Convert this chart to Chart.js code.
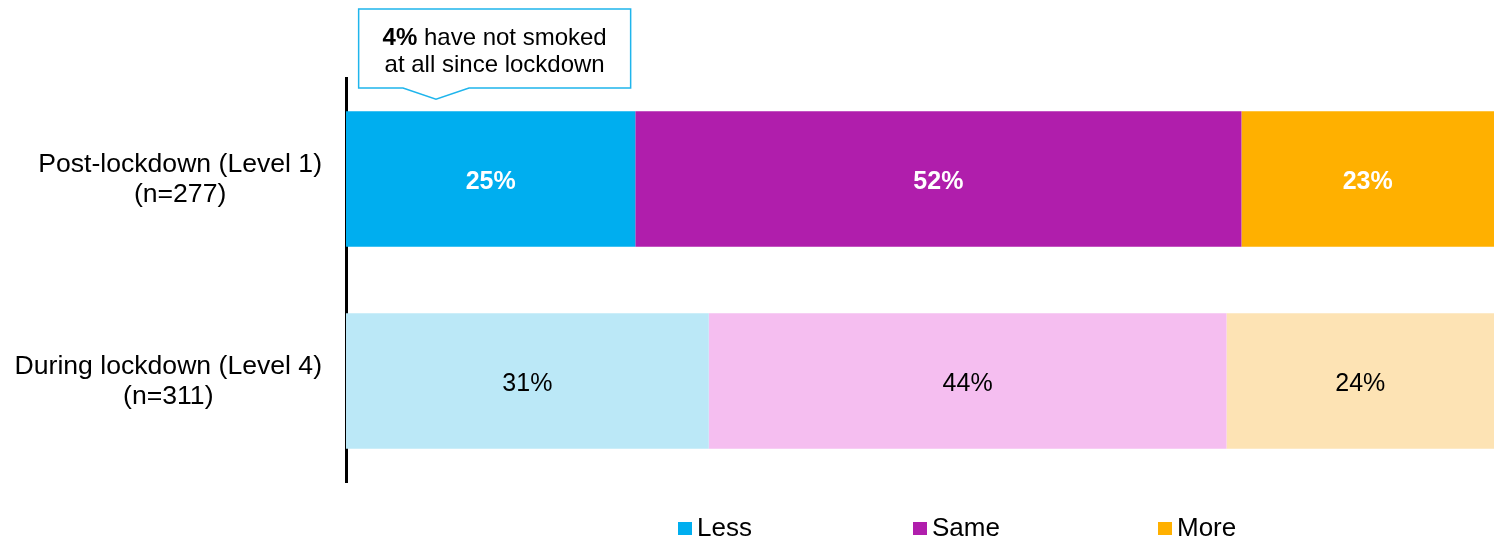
<!DOCTYPE html>
<html>
<head>
<meta charset="utf-8">
<style>
  html, body { margin: 0; padding: 0; background: #fff; }
  #wrap { width: 1494px; height: 539px; position: relative; }
</style>
<script src="https://cdn.jsdelivr.net/npm/chart.js@4.4.1/dist/chart.umd.min.js"></script>
</head>
<body>
<div id="wrap"><canvas id="chart"></canvas></div>
<script>
// rows of the chart
const categories = [
  ['Post-lockdown (Level 1)', '(n=277)'],
  ['During lockdown (Level 4)', '(n=311)']
];
const seriesNames = ['Less', 'Same', 'More'];

// bar widths, one array per series
const lessValues = [25.2, 31.6];
const sameValues = [52.8, 45.1];
const moreValues = [22.0, 23.3];

// labels printed on the segments
const lessLabels = ['25%', '31%'];
const sameLabels = ['52%', '44%'];
const moreLabels = ['23%', '24%'];

const calloutBold = '4%';
const calloutLines = [' have not smoked', 'at all since lockdown'];

const darkColors = ['#00AEEF', '#B01EAC', '#FFB000'];
const lightColors = ['#BBE8F7', '#F5BEF0', '#FDE3B4'];

const FONT = '"Liberation Sans", Arial, sans-serif';

const datasets = [lessValues, sameValues, moreValues].map((vals, i) => ({
  label: seriesNames[i],
  data: vals,
  backgroundColor: [darkColors[i], lightColors[i]],
  borderWidth: 0,
  categoryPercentage: 1,
  barPercentage: 0.67,
  segLabels: [lessLabels, sameLabels, moreLabels][i]
}));

const extrasPlugin = {
  id: 'extras',
  afterDatasetsDraw(chart) {
    const ctx = chart.ctx;
    const yScale = chart.scales.y;
    ctx.save();

    // segment labels
    chart.data.datasets.forEach((ds, di) => {
      const meta = chart.getDatasetMeta(di);
      meta.data.forEach((bar, idx) => {
        const cx = (bar.base + bar.x) / 2;
        ctx.font = (idx === 0 ? 'bold ' : '') + '25px ' + FONT;
        ctx.fillStyle = idx === 0 ? '#ffffff' : '#000000';
        ctx.textAlign = 'center';
        ctx.textBaseline = 'middle';
        ctx.fillText(ds.segLabels[idx], cx, bar.y + 3);
      });
    });

    // category labels: first line right aligned, second centred under it
    const labelRight = chart.chartArea.left - 24;
    categories.forEach((lines, i) => {
      const y = yScale.getPixelForValue(i);
      ctx.font = '26.6px ' + FONT;
      ctx.fillStyle = '#000000';
      ctx.textBaseline = 'middle';
      const w = ctx.measureText(lines[0]).width;
      ctx.textAlign = 'right';
      ctx.fillText(lines[0], labelRight, y - 14);
      ctx.textAlign = 'center';
      ctx.fillText(lines[1], labelRight - w / 2, y + 16);
    });

    // callout above the "Less" segment of the first row
    const bar = chart.getDatasetMeta(0).data[0];
    const bx = (bar.base + bar.x) / 2 + 4;
    const boxW = 272, top = 9, bottom = 88;
    const tipX = bar.base + 90, tipY = bar.y - bar.height / 2 - 12;
    const left = bx - boxW / 2, right = bx + boxW / 2;
    ctx.beginPath();
    ctx.moveTo(left, top);
    ctx.lineTo(right, top);
    ctx.lineTo(right, bottom);
    ctx.lineTo(tipX + 33, bottom);
    ctx.lineTo(tipX, tipY);
    ctx.lineTo(tipX - 33, bottom);
    ctx.lineTo(left, bottom);
    ctx.closePath();
    ctx.fillStyle = '#ffffff';
    ctx.fill();
    ctx.strokeStyle = '#1FB5EC';
    ctx.lineWidth = 1.5;
    ctx.stroke();

    ctx.fillStyle = '#000000';
    ctx.textBaseline = 'middle';
    ctx.font = 'bold 24px ' + FONT;
    const bw = ctx.measureText(calloutBold).width;
    ctx.font = '24px ' + FONT;
    const rw = ctx.measureText(calloutLines[0]).width;
    const sx = bx - (bw + rw) / 2;
    ctx.textAlign = 'left';
    ctx.font = 'bold 24px ' + FONT;
    ctx.fillText(calloutBold, sx, 38);
    ctx.font = '24px ' + FONT;
    ctx.fillText(calloutLines[0], sx + bw, 38);
    ctx.textAlign = 'center';
    ctx.fillText(calloutLines[1], bx, 65);

    // legend
    const legendX = [678, 913, 1158];
    const legendY = 528;
    seriesNames.forEach((name, i) => {
      ctx.fillStyle = darkColors[i];
      ctx.fillRect(legendX[i], legendY - 6, 14, 13);
      ctx.fillStyle = '#000000';
      ctx.textAlign = 'left';
      ctx.font = '26px ' + FONT;
      ctx.fillText(name, legendX[i] + 19, legendY + 1);
    });
    ctx.restore();
  }
};

new Chart(document.getElementById('chart'), {
  type: 'bar',
  data: { labels: categories, datasets: datasets },
  options: {
    indexAxis: 'y',
    responsive: true,
    maintainAspectRatio: false,
    animation: false,
    layout: { padding: { top: 78, bottom: 57, left: 0, right: 0 } },
    scales: {
      x: { stacked: true, min: 0, max: 100, display: false },
      y: {
        stacked: true,
        grid: { display: false },
        ticks: { display: false },
        border: { display: true, color: '#000000', width: 3 },
        afterFit(scale) { scale.width = 346; }
      }
    },
    plugins: {
      legend: { display: false },
      tooltip: { enabled: false }
    }
  },
  plugins: [extrasPlugin]
});
</script>
</body>
</html>
